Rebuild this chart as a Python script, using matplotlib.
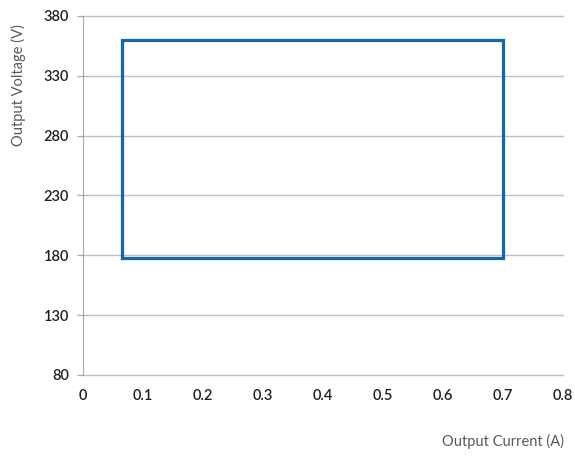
import matplotlib
matplotlib.use("Agg")
import matplotlib.pyplot as plt

# data: rectangle of operating area (current A, voltage V)
current = [0.065, 0.065, 0.70, 0.70, 0.065]
voltage = [178, 360, 360, 178, 178]
xticks = [0, 0.1, 0.2, 0.3, 0.4, 0.5, 0.6, 0.7, 0.8]
xtick_labels = ["0", "0.1", "0.2", "0.3", "0.4", "0.5", "0.6", "0.7", "0.8"]
yticks = [80, 130, 180, 230, 280, 330, 380]

plt.rcParams['font.family'] = ['Lato', 'DejaVu Sans']

fig = plt.figure(figsize=(5.75, 4.57), dpi=100)
ax = fig.add_axes([83/575, 82/457, 480/575, 359/457])

ax.set_xlim(0, 0.8)
ax.set_ylim(80, 380)
ax.set_yticks(yticks)
ax.set_yticklabels([str(v) for v in yticks])
ax.set_xticks(xticks)
ax.set_xticklabels(xtick_labels)
ax.grid(axis='y', color='#bfbfbf', linewidth=1)
for gl in ax.get_ygridlines():
    gl.set_clip_on(False)
ax.set_axisbelow(True)

ax.plot(current, voltage, color='#1565b0', linewidth=2.3, solid_joinstyle='miter', zorder=3)

for s in ['top', 'right', 'bottom']:
    ax.spines[s].set_visible(False)
ax.spines['left'].set_color('#a6a6a6')
ax.tick_params(axis='y', length=4, color='#a6a6a6', labelsize=10.5, labelcolor='#231f20', pad=6)
ax.tick_params(axis='x', length=0, labelsize=10.5, labelcolor='#231f20', pad=10)
for lab in ax.get_xticklabels() + ax.get_yticklabels():
    lab.set_fontweight('semibold')

fig.text(18/575, 1 - 85/457, "Output Voltage (V)", rotation=90, ha='center', va='center',
         fontsize=10.5, color='#595959')
fig.text(503/575, 1 - 441/457, "Output Current (A)", ha='center', va='center',
         fontsize=10.5, color='#595959')

fig.savefig("out.png", dpi=100)
